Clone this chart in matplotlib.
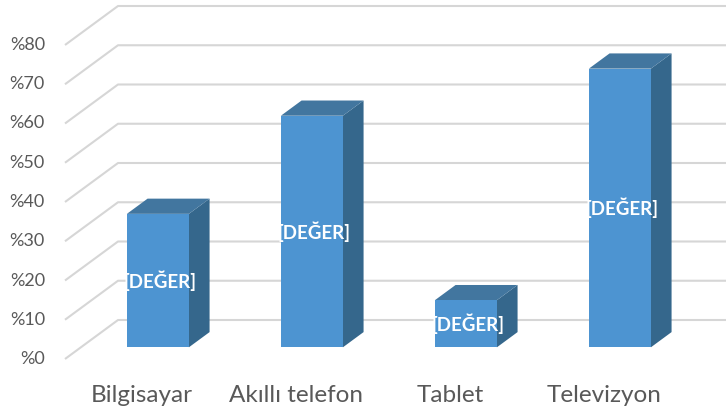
import matplotlib
matplotlib.use('Agg')
import matplotlib.pyplot as plt
from matplotlib.patches import Polygon

plt.rcParams['font.family'] = ['Lato', 'DejaVu Sans']

# veriler
categories = ['Bilgisayar', 'Akıllı telefon', 'Tablet', 'Televizyon']
values = [34, 59, 12, 71]
y_ticks = [0, 10, 20, 30, 40, 50, 60, 70, 80]
tick_labels = ['%' + str(t) for t in y_ticks]
bar_label = '[DEĞER]'

# renkler
FRONT = '#4D94D1'
TOP = '#42769F'
SIDE = '#35678C'
GRID = '#D6D6D6'
TEXT = '#595959'

# piksel ölçüleri (726x416 figür)
W, H = 726, 416
PLOT_LEFT = 65          # ön düzlemin sol kenarı
SLOT = 154              # kategori genişliği
ZERO_Y = 57             # %0 çizgisinin alttan yüksekliği
PX_PER_PCT = 3.925
DEPTH_X = 53 / SLOT                 # tam derinlik kayması (kategori birimi)
DEPTH_Y = 39 / PX_PER_PCT           # tam derinlik kayması (yüzde birimi)
BAR_W = 62 / SLOT
D0, D1 = 0.30, 0.69                 # sütunun derinlik aralığı


def proj(x, v, d):
    """3B noktayı (kategori, değer, derinlik) 2B eksen koordinatına çevirir."""
    return x + d * DEPTH_X, v + d * DEPTH_Y


fig = plt.figure(figsize=(W / 100, H / 100), dpi=100)
ax = fig.add_axes([0, 0, 1, 1])
ax.set_xlim(-0.5 - PLOT_LEFT / SLOT, -0.5 + (W - PLOT_LEFT) / SLOT)
ax.set_ylim(-ZERO_Y / PX_PER_PCT, (H - ZERO_Y) / PX_PER_PCT)
ax.axis('off')

x_right = ax.get_xlim()[1]

# ızgara: sol duvarda çapraz, arka duvarda yatay
for t, lab in zip(y_ticks, tick_labels):
    p0 = proj(-0.5, t, 0)
    p1 = proj(-0.5, t, 1)
    ax.plot([p0[0], p1[0], x_right], [p0[1], p1[1], p1[1]],
            color=GRID, lw=1.5, solid_capstyle='butt', zorder=1)
    ax.text(-0.5 - 20 / SLOT, t, lab, ha='right', va='center',
            fontsize=13, color=TEXT)

# sütunlar
for i, v in enumerate(values):
    l, r = i - BAR_W / 2, i + BAR_W / 2
    front = [proj(l, 0, D0), proj(r, 0, D0), proj(r, v, D0), proj(l, v, D0)]
    top = [proj(l, v, D0), proj(r, v, D0), proj(r, v, D1), proj(l, v, D1)]
    side = [proj(r, 0, D0), proj(r, v, D0), proj(r, v, D1), proj(r, 0, D1)]
    ax.add_patch(Polygon(side, closed=True, facecolor=SIDE, edgecolor='none', zorder=2))
    ax.add_patch(Polygon(top, closed=True, facecolor=TOP, edgecolor='none', zorder=2))
    ax.add_patch(Polygon(front, closed=True, facecolor=FRONT, edgecolor='none', zorder=3))
    cx, cy = proj(i, v / 2, D0)
    ax.text(cx + 2 / SLOT, cy, bar_label, ha='center', va='center', fontsize=13.5,
            fontweight='bold', color='white', zorder=4)

# kategori etiketleri
for i, name in enumerate(categories):
    ax.text(i, (21 - ZERO_Y) / PX_PER_PCT, name, ha='center', va='center',
            fontsize=17.5, color=TEXT)

fig.savefig('out.png', dpi=100)
